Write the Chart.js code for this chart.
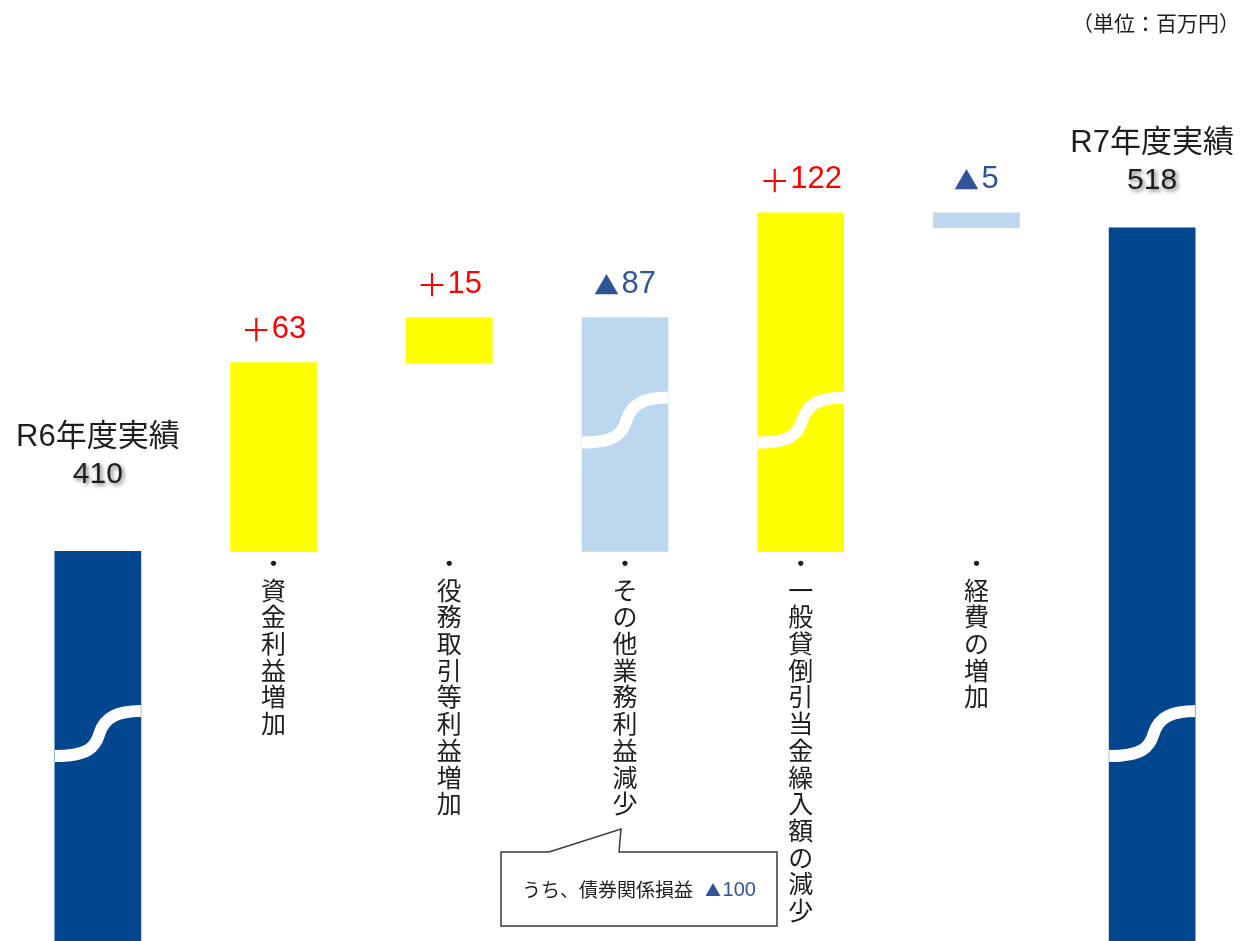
<!DOCTYPE html>
<html lang="ja">
<head>
<meta charset="utf-8">
<title>R6 → R7 実績 増減要因</title>
<script src="https://cdn.jsdelivr.net/npm/chart.js@4.4.1/dist/chart.umd.min.js"></script>
<style>
  html, body { margin: 0; padding: 0; background: #fff; }
  canvas { display: block; }
</style>
</head>
<body>
<canvas id="wf" width="1242" height="941"></canvas>
<script>
// data (百万円)
const categories = ["R6年度実績", "資金利益増加", "役務取引等利益増加", "その他業務利益減少", "一般貸倒引当金繰入額の減少", "経費の増加", "R7年度実績"];
const amounts = [410, 63, 15, -87, 122, -5, 518];
const isTotal = [true, false, false, false, false, false, true];
const breakAt = [214, null, null, 454, 454, null, 214]; // 省略（波線）の位置
const unitLabel = "（単位：百万円）";
const noteText = "うち、債券関係損益";
const noteValue = -100;
const noteOn = 3;

// axis break: 0..401 is squeezed, 401..410 is hidden
const axisIn = [0, 401, 410, 600];
const axisOut = [0, 130, 130, 320];

const NAVY = "#02468F", YELLOW = "#FFFF00", LIGHT = "#BDD7EE";
const RED = "#FF0000", BLUE = "#2F5597", INK = "#1E1E1E";
const LATIN = '"Liberation Sans", "Noto Sans CJK JP", sans-serif';
const JP = '"Noto Sans CJK JP", sans-serif';

function squeeze(v) {
  for (let i = 1; i < axisIn.length; i++) {
    if (v <= axisIn[i] || i === axisIn.length - 1) {
      const a = axisIn[i - 1], b = axisIn[i];
      if (b === a) return axisOut[i];
      return axisOut[i - 1] + (v - a) * (axisOut[i] - axisOut[i - 1]) / (b - a);
    }
  }
  return v;
}

class BrokenLinear extends Chart.LinearScale {
  static id = "brokenLinear";
  getPixelForValue(v) { return v === null ? NaN : super.getPixelForValue(squeeze(v)); }
}
Chart.register(BrokenLinear);

// floating ranges for the waterfall
const ranges = []; let running = 0;
amounts.forEach((v, i) => {
  if (isTotal[i]) { ranges.push([0, v]); running = v; }
  else { ranges.push([Math.min(running, running + v), Math.max(running, running + v)]); running += v; }
});
const colors = amounts.map((v, i) => isTotal[i] ? NAVY : v >= 0 ? YELLOW : LIGHT);

// sign glyph (CJK font) + digits (latin font), centred or left-aligned at x
function signed(ctx, v, x, y, size, align) {
  const pos = v >= 0, sym = pos ? "＋" : "▲", num = String(Math.abs(v));
  const symSize = pos ? size : Math.round(size * 0.8);
  ctx.font = `${symSize}px ${JP}`;
  const ws = ctx.measureText(sym).width + (pos ? 0 : size * 0.08);
  ctx.font = `${size}px ${LATIN}`; const wn = ctx.measureText(num).width;
  const sx = align === "left" ? x : x - (ws + wn) / 2;
  ctx.save(); ctx.textAlign = "left";
  ctx.font = `${symSize}px ${JP}`; ctx.fillText(sym, sx, y + (pos ? 0 : size * 0.02));
  ctx.font = `${size}px ${LATIN}`; ctx.fillText(num, sx + ws, y);
  ctx.restore();
  return ws + wn;
}

function squiggle(ctx, left, w, y) {
  ctx.beginPath();
  ctx.moveTo(left - 2, y + 23);
  ctx.bezierCurveTo(left + 0.38 * w, y + 23, left + 0.47 * w, y + 15, left + 0.52 * w, y);
  ctx.bezierCurveTo(left + 0.58 * w, y - 16, left + 0.72 * w, y - 22, left + w + 2, y - 22);
  ctx.stroke();
}

const overlay = {
  id: "overlay",
  afterDatasetsDraw(chart) {
    const { ctx, scales: { y }, chartArea } = chart;
    const bars = chart.getDatasetMeta(0).data;
    ctx.save();

    // break marks
    bars.forEach((bar, i) => {
      if (breakAt[i] == null) return;
      const left = bar.x - bar.width / 2, top = Math.min(bar.y, bar.base), bot = Math.max(bar.y, bar.base);
      ctx.save();
      ctx.beginPath(); ctx.rect(left, top, bar.width, bot - top); ctx.clip();
      ctx.strokeStyle = "#fff"; ctx.lineWidth = 12; ctx.lineCap = "butt";
      squiggle(ctx, left, bar.width, y.getPixelForValue(breakAt[i]));
      ctx.restore();
    });

    // value labels
    ctx.textAlign = "center"; ctx.textBaseline = "middle";
    bars.forEach((bar, i) => {
      const top = Math.min(bar.y, bar.base);
      if (isTotal[i]) {
        const gap = i === 0 ? 114 : 84;
        ctx.fillStyle = INK; ctx.font = `31px ${LATIN}`;
        ctx.fillText(categories[i], bar.x, top - gap);
        ctx.save();
        ctx.shadowColor = "rgba(0,0,0,0.55)"; ctx.shadowBlur = 4; ctx.shadowOffsetX = 2; ctx.shadowOffsetY = 2;
        ctx.font = `30px ${LATIN}`;
        ctx.fillText(String(amounts[i]), bar.x, top - gap + 37);
        ctx.restore();
      } else {
        ctx.fillStyle = amounts[i] >= 0 ? RED : BLUE;
        signed(ctx, amounts[i], bar.x, top - 33, 31, "center");
        // vertical category text
        ctx.fillStyle = INK; ctx.font = `25px ${JP}`;
        const y0 = y.getPixelForValue(amounts[0]) + 12;
        [..."・" + categories[i]].forEach((ch, k) => ctx.fillText(ch, bar.x, y0 + k * 26.7));
      }
    });

    // callout
    const cx = bars[noteOn].x, bTop = chartArea.bottom - 89, bBot = chartArea.bottom - 15;
    const bL = cx - 124, bR = cx + 152;
    ctx.beginPath();
    ctx.moveTo(bL, bTop); ctx.lineTo(cx - 76, bTop); ctx.lineTo(cx - 4, bTop - 23); ctx.lineTo(cx - 6, bTop);
    ctx.lineTo(bR, bTop); ctx.lineTo(bR, bBot); ctx.lineTo(bL, bBot); ctx.closePath();
    ctx.fillStyle = "#fff"; ctx.fill();
    ctx.strokeStyle = "#3A3A3A"; ctx.lineWidth = 1.5; ctx.stroke();
    ctx.font = `19px ${JP}`; const w1 = ctx.measureText(noteText).width + 12;
    ctx.font = `16px ${JP}`; const wsym = ctx.measureText("▲").width + 1.6;
    ctx.font = `20px ${LATIN}`; const w2 = wsym + ctx.measureText(String(Math.abs(noteValue))).width;
    const sx = (bL + bR) / 2 - (w1 + w2) / 2, ty = (bTop + bBot) / 2 + 1;
    ctx.textAlign = "left";
    ctx.font = `19px ${JP}`; ctx.fillStyle = INK; ctx.fillText(noteText, sx, ty);
    ctx.fillStyle = BLUE; signed(ctx, noteValue, sx + w1, ty, 20, "left");

    // unit
    ctx.textAlign = "right"; ctx.fillStyle = INK; ctx.font = `21px ${JP}`;
    ctx.fillText(unitLabel, chart.width - 2, 23);
    ctx.restore();
  }
};

new Chart(document.getElementById("wf"), {
  type: "bar",
  data: {
    labels: categories,
    datasets: [{ data: ranges, backgroundColor: colors, borderWidth: 0, barThickness: 86 }]
  },
  options: {
    responsive: false,
    animation: false,
    events: [],
    layout: { padding: { left: 10, right: 2, top: 0, bottom: 0 } },
    plugins: { legend: { display: false }, tooltip: { enabled: false } },
    scales: {
      x: { type: "category", display: false, offset: true, grid: { display: false } },
      y: { type: "brokenLinear", display: false, min: 0, max: 314 }
    }
  },
  plugins: [overlay]
});
</script>
</body>
</html>
